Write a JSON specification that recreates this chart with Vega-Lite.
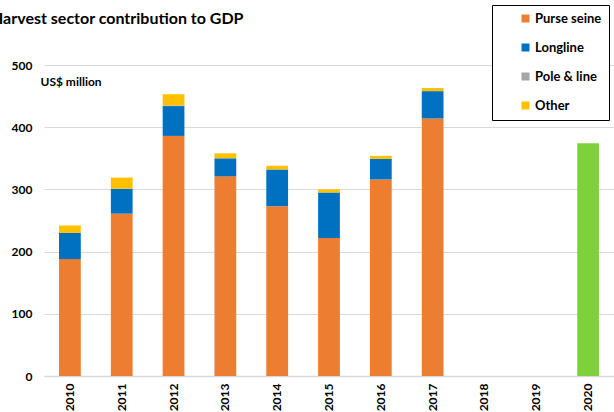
{
  "$schema": "https://vega.github.io/schema/vega-lite/v6.json",
  "width": 570,
  "height": 311,
  "autosize": "none",
  "padding": {"left": 44, "top": 65, "right": 0, "bottom": 36},
  "background": "white",
  "title": {
    "text": "Harvest sector contribution to GDP",
    "anchor": "start",
    "frame": "group",
    "dx": -53,
    "offset": -22,
    "font": "Lato",
    "fontSize": 16,
    "fontWeight": "bold",
    "color": "#000000"
  },
  "datasets": {
    "ranks": [
      {"series": "Purse seine", "rank": 1},
      {"series": "Longline", "rank": 2},
      {"series": "Pole & line", "rank": 3},
      {"series": "Other", "rank": 4},
      {"series": "Total", "rank": 5}
    ]
  },
  "data": {
    "values": [
      {"year": "2010", "series": "Purse seine", "value": 188},
      {"year": "2010", "series": "Longline", "value": 42},
      {"year": "2010", "series": "Pole & line", "value": 0},
      {"year": "2010", "series": "Other", "value": 12},
      {"year": "2011", "series": "Purse seine", "value": 261},
      {"year": "2011", "series": "Longline", "value": 40},
      {"year": "2011", "series": "Pole & line", "value": 0},
      {"year": "2011", "series": "Other", "value": 18},
      {"year": "2012", "series": "Purse seine", "value": 386},
      {"year": "2012", "series": "Longline", "value": 48},
      {"year": "2012", "series": "Pole & line", "value": 1},
      {"year": "2012", "series": "Other", "value": 18},
      {"year": "2013", "series": "Purse seine", "value": 321},
      {"year": "2013", "series": "Longline", "value": 29},
      {"year": "2013", "series": "Pole & line", "value": 0},
      {"year": "2013", "series": "Other", "value": 8},
      {"year": "2014", "series": "Purse seine", "value": 273},
      {"year": "2014", "series": "Longline", "value": 59},
      {"year": "2014", "series": "Pole & line", "value": 0},
      {"year": "2014", "series": "Other", "value": 6},
      {"year": "2015", "series": "Purse seine", "value": 222},
      {"year": "2015", "series": "Longline", "value": 73},
      {"year": "2015", "series": "Pole & line", "value": 0},
      {"year": "2015", "series": "Other", "value": 5},
      {"year": "2016", "series": "Purse seine", "value": 316},
      {"year": "2016", "series": "Longline", "value": 33},
      {"year": "2016", "series": "Pole & line", "value": 0},
      {"year": "2016", "series": "Other", "value": 5},
      {"year": "2017", "series": "Purse seine", "value": 414},
      {"year": "2017", "series": "Longline", "value": 44},
      {"year": "2017", "series": "Pole & line", "value": 0},
      {"year": "2017", "series": "Other", "value": 5},
      {"year": "2020", "series": "Total", "value": 374}
    ]
  },
  "transform": [
    {"lookup": "series", "from": {"data": {"name": "ranks"}, "key": "series", "fields": ["rank"]}}
  ],
  "mark": {"type": "bar"},
  "encoding": {
    "x": {
      "field": "year",
      "type": "ordinal",
      "scale": {
        "domain": ["2010", "2011", "2012", "2013", "2014", "2015", "2016", "2017", "2018", "2019", "2020"],
        "paddingInner": 0.58,
        "paddingOuter": 0.29
      },
      "axis": {
        "title": null,
        "labelAngle": -90,
        "labelPadding": 7,
        "ticks": false,
        "domainColor": "#d9d9d9",
        "domainWidth": 1.5,
        "labelFont": "Lato",
        "labelFontSize": 12,
        "labelFontWeight": "bold",
        "labelColor": "#000000"
      }
    },
    "y": {
      "field": "value",
      "type": "quantitative",
      "stack": "zero",
      "scale": {"domain": [0, 500]},
      "axis": {
        "values": [0, 100, 200, 300, 400, 500],
        "title": "US$ million",
        "titleAngle": 0,
        "titleX": -4,
        "titleY": 16,
        "titleAlign": "left",
        "titleBaseline": "middle",
        "titleFont": "Lato",
        "titleFontSize": 12,
        "titleFontWeight": "bold",
        "titleColor": "#000000",
        "ticks": false,
        "domain": false,
        "gridColor": "#d9d9d9",
        "gridWidth": 1.2,
        "labelPadding": 12,
        "labelFont": "Lato",
        "labelFontSize": 12,
        "labelFontWeight": "bold",
        "labelColor": "#000000"
      }
    },
    "color": {
      "field": "series",
      "type": "nominal",
      "scale": {
        "domain": ["Purse seine", "Longline", "Pole & line", "Other", "Total"],
        "range": ["#ED7D31", "#0070C0", "#A5A5A5", "#FFC000", "#7FD13B"]
      },
      "legend": {
        "values": ["Purse seine", "Longline", "Pole & line", "Other"],
        "title": null,
        "orient": "none",
        "legendX": 448,
        "legendY": -60,
        "strokeColor": "#000000",
        "fillColor": "#ffffff",
        "padding": 7,
        "symbolOffset": 20,
        "symbolType": "square",
        "symbolSize": 64,
        "symbolStrokeWidth": 0,
        "rowPadding": 15,
        "labelFont": "Lato",
        "labelFontSize": 13,
        "labelFontWeight": "bold",
        "labelColor": "#000000",
        "labelOffset": 3
      }
    },
    "order": {"field": "rank", "type": "quantitative", "sort": "ascending"}
  },
  "config": {"view": {"stroke": null}}
}
